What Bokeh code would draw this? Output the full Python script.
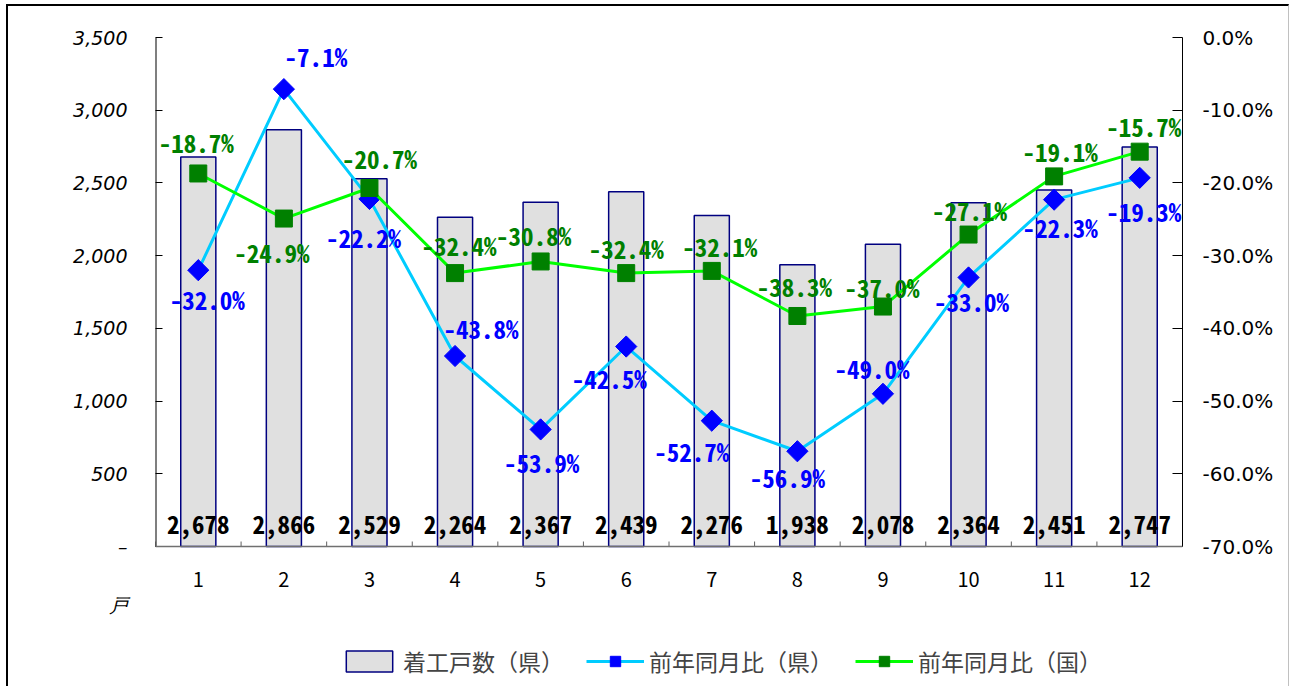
from bokeh.plotting import figure
from bokeh.models import (ColumnDataSource, LinearAxis, Range1d, FixedTicker,
                          Legend, LegendItem, Span)
from bokeh.core.properties import value
from bokeh.embed import file_html
from bokeh.resources import INLINE

# ---------------- data ----------------
months = [1, 2, 3, 4, 5, 6, 7, 8, 9, 10, 11, 12]
month_labels = ["1", "2", "3", "4", "5", "6", "7", "8", "9", "10", "11", "12"]
starts = [2678, 2866, 2529, 2264, 2367, 2439, 2276, 1938, 2078, 2364, 2451, 2747]
pref_yoy = [-32.0, -7.1, -22.2, -43.8, -53.9, -42.5, -52.7, -56.9, -49.0, -33.0, -22.3, -19.3]
nat_yoy = [-18.7, -24.9, -20.7, -32.4, -30.8, -32.4, -32.1, -38.3, -37.0, -27.1, -19.1, -15.7]
left_ticks = [0, 500, 1000, 1500, 2000, 2500, 3000, 3500]
left_tick_labels = ["–", "500", "1,000", "1,500", "2,000", "2,500", "3,000", "3,500"]
right_ticks = [-70, -60, -50, -40, -30, -20, -10, 0]
right_tick_labels = ["-70.0%", "-60.0%", "-50.0%", "-40.0%", "-30.0%", "-20.0%", "-10.0%", "0.0%"]
series_names = ["着工戸数（県）", "前年同月比（県）", "前年同月比（国）"]
unit_label = "戸"

# label placement (screen pixel offsets, not data)
pref_dx = [9, 32, -6, 26, 1, -17, -20, -10, -11, 3, 6, 4]
pref_dy = [29, -33, 38, -28, 33, 31, 30, 26, -26, 24, 27, 33]
nat_dx = [-2, -12, 10, 4, -7, 0, 8, -3, -1, 1, 6, 4]
nat_dy = [-31, 33, -30, -28, -26, -25, -25, -30, -20, -25, -25, -26]

# ---------------- layout (pixels) ----------------
PLOT_H = 509          # height of the value area (0 .. 3500)
EXTRA_H = 140         # area below the value axis holding x labels and legend
LEFT_MAX, RIGHT_MIN = 3500, -70
left_per_px = LEFT_MAX / PLOT_H
right_per_px = -RIGHT_MIN / PLOT_H
left_min = -EXTRA_H * left_per_px
right_min = RIGHT_MIN - EXTRA_H * right_per_px
unit_pos = -58 * left_per_px          # where the unit label sits
tick_len = 5 * left_per_px            # x-axis tick length

FONT = "Noto Sans CJK JP"
MONO = "'Noto Sans Mono CJK JP', 'DejaVu Sans Mono', monospace"

src = ColumnDataSource(dict(
    x=months, starts=starts,
    starts_txt=[f"{v:,}" for v in starts],
    base=[150] * len(months),
    zero=[0] * len(months),
    mlab=month_labels,
    pref=pref_yoy, nat=nat_yoy,
    pref_txt=[f"{v:.1f}%" for v in pref_yoy],
    nat_txt=[f"{v:.1f}%" for v in nat_yoy],
    pdx=pref_dx, pdy=pref_dy, ndx=nat_dx, ndy=nat_dy,
))

p = figure(frame_width=1027, frame_height=PLOT_H + EXTRA_H,
           min_border_left=147, min_border_right=106,
           min_border_top=31, min_border_bottom=0,
           x_range=Range1d(0.5, 12.5), y_range=Range1d(left_min, LEFT_MAX),
           x_axis_location=None,
           output_backend="svg", toolbar_location=None,
           background_fill_color="white", border_fill_color="white")
p.extra_y_ranges = {"pct": Range1d(right_min, 0)}
p.styles = {"margin-left": "6px", "margin-top": "4px",
            "border-top": "2px solid black", "border-left": "2px solid black",
            "border-right": "1px solid #c0c0c0"}
p.outline_line_color = None
p.grid.visible = False

# bars
bars = p.vbar(x="x", top="starts", width=0.41, source=src,
              fill_color="#E0E0E0", line_color="#000080", line_width=1.5)
p.text(x="x", y="base", text="starts_txt", source=src,
       text_font=value(MONO), text_font_style="bold", text_font_size="25px",
       text_color="black", text_align="center", text_baseline="middle")

# category axis (drawn at value 0)
p.add_layout(Span(location=0, dimension="width", line_color="#707070", line_width=1.5))
bounds = [m - 0.5 for m in months] + [12.5]
p.segment(x0=bounds, y0=[0] * len(bounds), x1=bounds, y1=[tick_len] * len(bounds),
          line_color="#606060", line_width=1)
p.text(x="x", y="zero", text="mlab", source=src, y_offset=33,
       text_font=value(FONT), text_font_size="20px", text_color="black",
       text_align="center", text_baseline="middle")
p.segment(x0=[0.5], y0=[0], x1=[0.5], y1=[LEFT_MAX], line_color="black", line_width=2)

# lines
pl = p.line(x="x", y="pref", source=src, y_range_name="pct",
            line_color="#00CCFF", line_width=3)
pm = p.scatter(x="x", y="pref", source=src, y_range_name="pct",
               marker="square", angle=0.785398, size=15,
               fill_color="#0000FF", line_color="#0000FF")
nl = p.line(x="x", y="nat", source=src, y_range_name="pct",
            line_color="#00FF00", line_width=3)
nm = p.scatter(x="x", y="nat", source=src, y_range_name="pct",
               marker="square", size=17,
               fill_color="#008000", line_color="#008000")

p.text(x="x", y="pref", text="pref_txt", source=src, y_range_name="pct",
       x_offset="pdx", y_offset="pdy",
       text_font=value(MONO), text_font_style="bold", text_font_size="25px",
       text_color="#0000FF", text_align="center", text_baseline="middle")
p.text(x="x", y="nat", text="nat_txt", source=src, y_range_name="pct",
       x_offset="ndx", y_offset="ndy",
       text_font=value(MONO), text_font_style="bold", text_font_size="25px",
       text_color="#008000", text_align="center", text_baseline="middle")

# left axis: labels on major ticks (incl. unit), tick marks via minor ticks
ya = p.yaxis[0]
ya.ticker = FixedTicker(ticks=left_ticks + [unit_pos], minor_ticks=left_ticks)
overrides = {t: l for t, l in zip(left_ticks, left_tick_labels)}
overrides[unit_pos] = unit_label
ya.major_label_overrides = overrides
ya.major_tick_line_color = None
ya.minor_tick_in = 7
ya.minor_tick_out = 0
ya.minor_tick_line_color = "black"
ya.axis_line_color = None
ya.major_label_standoff = 22
ya.major_label_text_font = "DejaVu Sans"
ya.major_label_text_font_style = "italic"
ya.major_label_text_font_size = "19px"
ya.major_label_text_color = "black"

ra = LinearAxis(y_range_name="pct", ticker=FixedTicker(ticks=right_ticks),
                bounds=(RIGHT_MIN, 0))
ra.major_label_overrides = {t: l for t, l in zip(right_ticks, right_tick_labels)}
ra.major_tick_in = 10
ra.major_tick_out = 0
ra.minor_tick_line_color = None
ra.axis_line_color = "black"
ra.major_tick_line_color = "black"
ra.major_label_standoff = 20
ra.major_label_text_font = "DejaVu Sans"
ra.major_label_text_font_size = "20px"
ra.major_label_text_color = "black"
p.add_layout(ra, "right")

legend = Legend(items=[
    LegendItem(label=series_names[0], renderers=[bars]),
    LegendItem(label=series_names[1], renderers=[pl, pm]),
    LegendItem(label=series_names[2], renderers=[nl, nm]),
], orientation="horizontal", location=(185, 8),
    label_text_font=FONT, label_text_font_size="23px",
    glyph_width=58, glyph_height=26, spacing=22, label_standoff=5,
    padding=0, margin=0, border_line_color=None, background_fill_alpha=0)
p.add_layout(legend, "center")

open("out.html", "w").write(file_html(p, INLINE))
